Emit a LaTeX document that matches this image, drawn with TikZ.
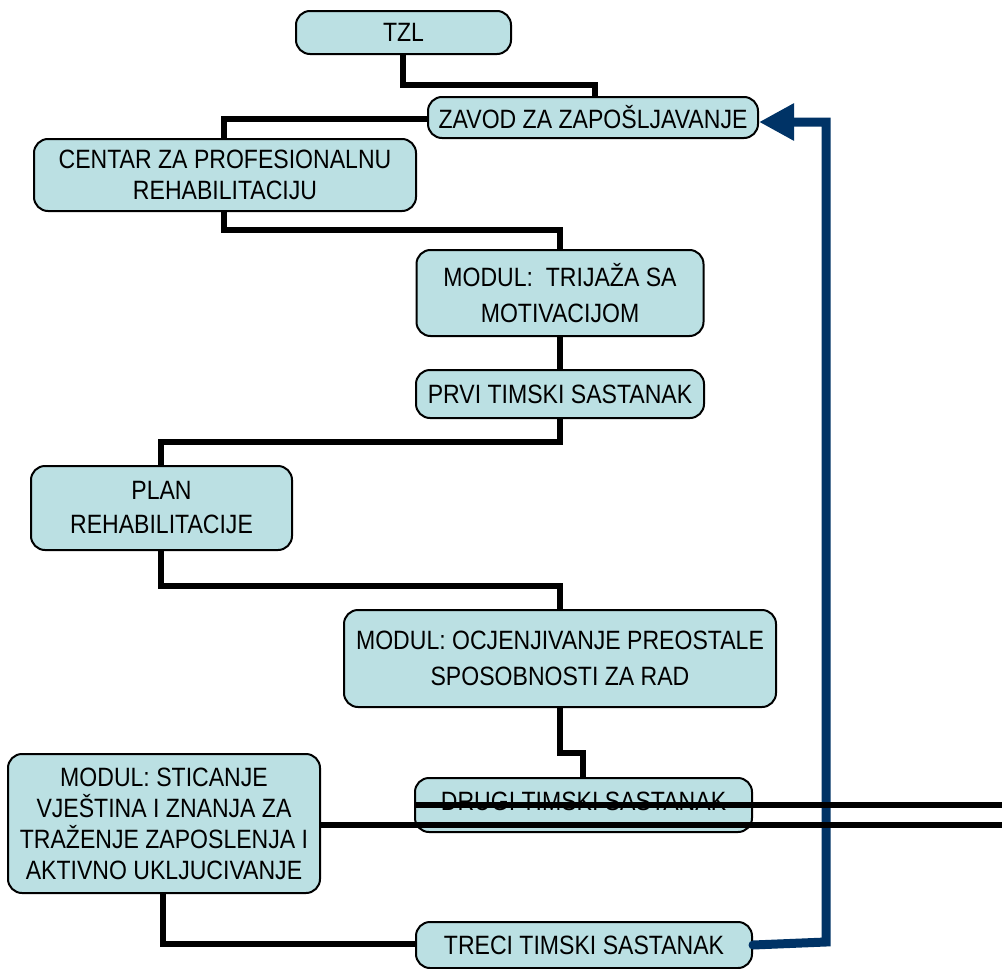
\documentclass[tikz,border=0pt]{standalone}
\usepackage{fontspec}
\setmainfont{Liberation Sans}[FakeStretch=0.87]
\usetikzlibrary{arrows.meta}
\definecolor{boxfill}{RGB}{187,224,227}
\definecolor{flowblue}{RGB}{0,51,102}
\tikzset{
  stepbox/.style={draw=black, line width=2pt, fill=boxfill, rounded corners=14pt,
    align=center, inner sep=0pt, font=\fontsize{26.5}{31}\selectfont},
  link/.style={draw=black, line width=6.5pt},
  backlink/.style={draw=flowblue, line width=9pt, line cap=round,
    -{Triangle[length=35pt,width=35pt]}}
}
\begin{document}
\begin{tikzpicture}[x=1pt,y=-1pt]
\useasboundingbox (0,0) rectangle (1002,969);

% bend points of the tree connectors
\coordinate (c1) at (403,85);
\coordinate (c2) at (224,119);
\coordinate (c3) at (224,230);
\coordinate (c4) at (560,442);
\coordinate (c5) at (161,586);
\coordinate (c6) at (560,753);
\coordinate (c7) at (163,944);

\node[stepbox, minimum width=215pt, minimum height=43pt] (tzl) at (403.5,32.5) {TZL};
\node[stepbox, minimum width=330pt, minimum height=41pt] (zavod) at (593,117.5) {ZAVOD ZA ZAPOŠLJAVANJE};
\node[stepbox, minimum width=382pt, minimum height=72pt] (centar) at (225,175) {CENTAR ZA PROFESIONALNU\\REHABILITACIJU};
\node[stepbox, minimum width=287pt, minimum height=86pt, font=\fontsize{26.5}{36}\selectfont] (trijaza) at (560,293) {MODUL:\ \ TRIJAŽA SA\\MOTIVACIJOM};
\node[stepbox, minimum width=288pt, minimum height=48pt] (prvi) at (560,394) {PRVI TIMSKI SASTANAK};
\node[stepbox, minimum width=261pt, minimum height=84pt, font=\fontsize{26.5}{34}\selectfont] (plan) at (161.5,508) {PLAN\\REHABILITACIJE};
\node[stepbox, minimum width=432pt, minimum height=97pt, font=\fontsize{26.5}{36}\selectfont] (ocj) at (560,658.5) {MODUL: OCJENJIVANJE PREOSTALE\\SPOSOBNOSTI ZA RAD};
\node[stepbox, minimum width=337pt, minimum height=54pt] (drugi) at (583.5,805) {\raisebox{8pt}{DRUGI TIMSKI SASTANAK}};
\node[stepbox, minimum width=312pt, minimum height=139pt] (sticanje) at (164,823.5) {MODUL: STICANJE\\VJEŠTINA I ZNANJA ZA\\TRAŽENJE ZAPOSLENJA I\\AKTIVNO UKLJUCIVANJE};
\node[stepbox, minimum width=336pt, minimum height=46pt] (treci) at (584,945) {TRECI TIMSKI SASTANAK};

% tree connectors
\draw[link] (tzl.south -| c1) -- (c1) -| (zavod.north -| 595,0);
\draw[link] (zavod.west |- c2) -- (c2) -- (centar.north -| c2);
\draw[link] (centar.south -| c3) -- (c3) -| (trijaza.north);
\draw[link] (trijaza.south) -- (prvi.north);
\draw[link] (prvi.south) -- (c4) -| (plan.north -| c5);
\draw[link] (plan.south -| c5) -- (c5) -| (ocj.north);
\draw[link] (ocj.south) -- (c6) -| (drugi.north -| 583,0);
\draw[link] (sticanje.south -| c7) -- (c7) -- (treci.west |- c7);

% return path
\coordinate (bend) at (826,942);
\draw[backlink] (treci.east) -- (bend) |- (zavod.east |- 0,122);

% long horizontal rules across the lower part
\coordinate (r1) at (1002,805);
\coordinate (r2) at (1002,825);
\draw[link] (drugi.west |- r1) -- (r1);
\draw[link] (sticanje.east |- r2) -- (r2);
\end{tikzpicture}
\end{document}
